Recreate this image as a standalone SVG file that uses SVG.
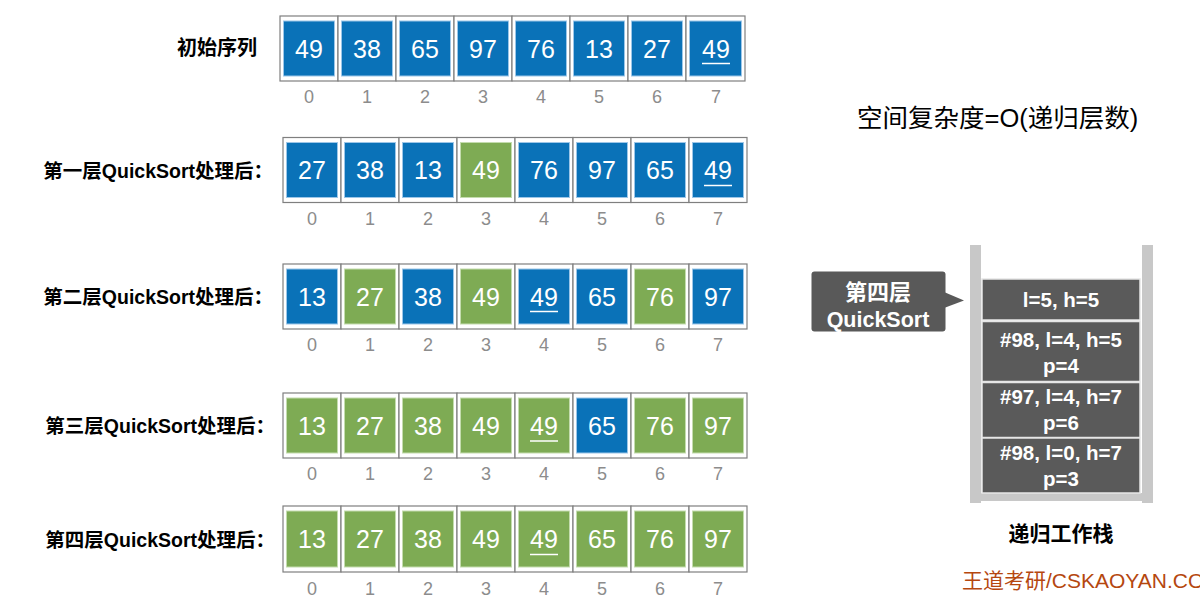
<svg xmlns="http://www.w3.org/2000/svg" width="1200" height="603" viewBox="0 0 1200 603">
<style>
.cell{fill:#fff;stroke:#7f7f7f;stroke-width:1.2}
.b{fill:#0A72B8;stroke:#9CC6E8;stroke-width:1}
.g{fill:#7EAB54;stroke:#C4DCAE;stroke-width:1}
.v{font-family:"Liberation Sans",Arial,sans-serif;font-size:25px;fill:#fff;text-anchor:middle}
.ix{font-family:"Liberation Sans",Arial,sans-serif;font-size:18px;fill:#8C8C8C;text-anchor:middle}
.ul{stroke:#fff;stroke-width:1.5}
.lbl{font-family:"Liberation Sans","Noto Sans CJK SC",sans-serif;font-size:19.5px;font-weight:bold;fill:#000;text-anchor:end}
.st{fill:#5A5A5A;stroke:#e6e6e6;stroke-width:1.5}
.stt{font-family:"Liberation Sans",Arial,sans-serif;font-size:20.5px;font-weight:bold;fill:#fff;text-anchor:middle}
.bar{fill:#C8C8C8}
</style>
<rect width="1200" height="603" fill="#fff"/>

<!-- Row labels -->
<g id="labels">
<text class="lbl" x="257" y="55" style="font-size:20px">初始序列</text>
<text class="lbl" x="273" y="177.5">第一层QuickSort处理后：</text>
<text class="lbl" x="273" y="303.5">第二层QuickSort处理后：</text>
<text class="lbl" x="275" y="433">第三层QuickSort处理后：</text>
<text class="lbl" x="275" y="546.5">第四层QuickSort处理后：</text>
</g>

<!-- Row 1 -->
<g id="row1">
<rect class="cell" x="280" y="16" width="58" height="65"/><rect class="b" x="283.5" y="21" width="51" height="55"/><text class="v" x="309" y="57.5">49</text><text class="ix" x="309" y="103">0</text>
<rect class="cell" x="338" y="16" width="58" height="65"/><rect class="b" x="341.5" y="21" width="51" height="55"/><text class="v" x="367" y="57.5">38</text><text class="ix" x="367" y="103">1</text>
<rect class="cell" x="396" y="16" width="58" height="65"/><rect class="b" x="399.5" y="21" width="51" height="55"/><text class="v" x="425" y="57.5">65</text><text class="ix" x="425" y="103">2</text>
<rect class="cell" x="454" y="16" width="58" height="65"/><rect class="b" x="457.5" y="21" width="51" height="55"/><text class="v" x="483" y="57.5">97</text><text class="ix" x="483" y="103">3</text>
<rect class="cell" x="512" y="16" width="58" height="65"/><rect class="b" x="515.5" y="21" width="51" height="55"/><text class="v" x="541" y="57.5">76</text><text class="ix" x="541" y="103">4</text>
<rect class="cell" x="570" y="16" width="58" height="65"/><rect class="b" x="573.5" y="21" width="51" height="55"/><text class="v" x="599" y="57.5">13</text><text class="ix" x="599" y="103">5</text>
<rect class="cell" x="628" y="16" width="58" height="65"/><rect class="b" x="631.5" y="21" width="51" height="55"/><text class="v" x="657" y="57.5">27</text><text class="ix" x="657" y="103">6</text>
<rect class="cell" x="686" y="16" width="59" height="65"/><rect class="b" x="689.5" y="21" width="52" height="55"/><text class="v" x="716" y="57.5">49</text><line class="ul" x1="702" y1="63.5" x2="730" y2="63.5"/><text class="ix" x="716" y="103">7</text>
</g>

<!-- Row 2 -->
<g id="row2">
<rect class="cell" x="283" y="137.5" width="58" height="65"/><rect class="b" x="286.5" y="142.5" width="51" height="55"/><text class="v" x="312" y="179">27</text><text class="ix" x="312" y="224.5">0</text>
<rect class="cell" x="341" y="137.5" width="58" height="65"/><rect class="b" x="344.5" y="142.5" width="51" height="55"/><text class="v" x="370" y="179">38</text><text class="ix" x="370" y="224.5">1</text>
<rect class="cell" x="399" y="137.5" width="58" height="65"/><rect class="b" x="402.5" y="142.5" width="51" height="55"/><text class="v" x="428" y="179">13</text><text class="ix" x="428" y="224.5">2</text>
<rect class="cell" x="457" y="137.5" width="58" height="65"/><rect class="g" x="460.5" y="142.5" width="51" height="55"/><text class="v" x="486" y="179">49</text><text class="ix" x="486" y="224.5">3</text>
<rect class="cell" x="515" y="137.5" width="58" height="65"/><rect class="b" x="518.5" y="142.5" width="51" height="55"/><text class="v" x="544" y="179">76</text><text class="ix" x="544" y="224.5">4</text>
<rect class="cell" x="573" y="137.5" width="58" height="65"/><rect class="b" x="576.5" y="142.5" width="51" height="55"/><text class="v" x="602" y="179">97</text><text class="ix" x="602" y="224.5">5</text>
<rect class="cell" x="631" y="137.5" width="58" height="65"/><rect class="b" x="634.5" y="142.5" width="51" height="55"/><text class="v" x="660" y="179">65</text><text class="ix" x="660" y="224.5">6</text>
<rect class="cell" x="689" y="137.5" width="58" height="65"/><rect class="b" x="692.5" y="142.5" width="51" height="55"/><text class="v" x="718" y="179">49</text><line class="ul" x1="704" y1="185.5" x2="732" y2="185.5"/><text class="ix" x="718" y="224.5">7</text>
</g>

<!-- Row 3 -->
<g id="row3">
<rect class="cell" x="283" y="264" width="58" height="65"/><rect class="b" x="286.5" y="269" width="51" height="55"/><text class="v" x="312" y="305.5">13</text><text class="ix" x="312" y="350.5">0</text>
<rect class="cell" x="341" y="264" width="58" height="65"/><rect class="g" x="344.5" y="269" width="51" height="55"/><text class="v" x="370" y="305.5">27</text><text class="ix" x="370" y="350.5">1</text>
<rect class="cell" x="399" y="264" width="58" height="65"/><rect class="b" x="402.5" y="269" width="51" height="55"/><text class="v" x="428" y="305.5">38</text><text class="ix" x="428" y="350.5">2</text>
<rect class="cell" x="457" y="264" width="58" height="65"/><rect class="g" x="460.5" y="269" width="51" height="55"/><text class="v" x="486" y="305.5">49</text><text class="ix" x="486" y="350.5">3</text>
<rect class="cell" x="515" y="264" width="58" height="65"/><rect class="b" x="518.5" y="269" width="51" height="55"/><text class="v" x="544" y="305.5">49</text><line class="ul" x1="530" y1="311.5" x2="558" y2="311.5"/><text class="ix" x="544" y="350.5">4</text>
<rect class="cell" x="573" y="264" width="58" height="65"/><rect class="b" x="576.5" y="269" width="51" height="55"/><text class="v" x="602" y="305.5">65</text><text class="ix" x="602" y="350.5">5</text>
<rect class="cell" x="631" y="264" width="58" height="65"/><rect class="g" x="634.5" y="269" width="51" height="55"/><text class="v" x="660" y="305.5">76</text><text class="ix" x="660" y="350.5">6</text>
<rect class="cell" x="689" y="264" width="58" height="65"/><rect class="b" x="692.5" y="269" width="51" height="55"/><text class="v" x="718" y="305.5">97</text><text class="ix" x="718" y="350.5">7</text>
</g>

<!-- Row 4 -->
<g id="row4">
<rect class="cell" x="283" y="393" width="58" height="65"/><rect class="g" x="286.5" y="398" width="51" height="55"/><text class="v" x="312" y="434.5">13</text><text class="ix" x="312" y="479.5">0</text>
<rect class="cell" x="341" y="393" width="58" height="65"/><rect class="g" x="344.5" y="398" width="51" height="55"/><text class="v" x="370" y="434.5">27</text><text class="ix" x="370" y="479.5">1</text>
<rect class="cell" x="399" y="393" width="58" height="65"/><rect class="g" x="402.5" y="398" width="51" height="55"/><text class="v" x="428" y="434.5">38</text><text class="ix" x="428" y="479.5">2</text>
<rect class="cell" x="457" y="393" width="58" height="65"/><rect class="g" x="460.5" y="398" width="51" height="55"/><text class="v" x="486" y="434.5">49</text><text class="ix" x="486" y="479.5">3</text>
<rect class="cell" x="515" y="393" width="58" height="65"/><rect class="g" x="518.5" y="398" width="51" height="55"/><text class="v" x="544" y="434.5">49</text><line class="ul" x1="530" y1="441" x2="558" y2="441"/><text class="ix" x="544" y="479.5">4</text>
<rect class="cell" x="573" y="393" width="58" height="65"/><rect class="b" x="576.5" y="398" width="51" height="55"/><text class="v" x="602" y="434.5">65</text><text class="ix" x="602" y="479.5">5</text>
<rect class="cell" x="631" y="393" width="58" height="65"/><rect class="g" x="634.5" y="398" width="51" height="55"/><text class="v" x="660" y="434.5">76</text><text class="ix" x="660" y="479.5">6</text>
<rect class="cell" x="689" y="393" width="58" height="65"/><rect class="g" x="692.5" y="398" width="51" height="55"/><text class="v" x="718" y="434.5">97</text><text class="ix" x="718" y="479.5">7</text>
</g>

<!-- Row 5 -->
<g id="row5">
<rect class="cell" x="283" y="506" width="58" height="66"/><rect class="g" x="286.5" y="511" width="51" height="56"/><text class="v" x="312" y="548">13</text><text class="ix" x="312" y="594.5">0</text>
<rect class="cell" x="341" y="506" width="58" height="66"/><rect class="g" x="344.5" y="511" width="51" height="56"/><text class="v" x="370" y="548">27</text><text class="ix" x="370" y="594.5">1</text>
<rect class="cell" x="399" y="506" width="58" height="66"/><rect class="g" x="402.5" y="511" width="51" height="56"/><text class="v" x="428" y="548">38</text><text class="ix" x="428" y="594.5">2</text>
<rect class="cell" x="457" y="506" width="58" height="66"/><rect class="g" x="460.5" y="511" width="51" height="56"/><text class="v" x="486" y="548">49</text><text class="ix" x="486" y="594.5">3</text>
<rect class="cell" x="515" y="506" width="58" height="66"/><rect class="g" x="518.5" y="511" width="51" height="56"/><text class="v" x="544" y="548">49</text><line class="ul" x1="530" y1="554.5" x2="558" y2="554.5"/><text class="ix" x="544" y="594.5">4</text>
<rect class="cell" x="573" y="506" width="58" height="66"/><rect class="g" x="576.5" y="511" width="51" height="56"/><text class="v" x="602" y="548">65</text><text class="ix" x="602" y="594.5">5</text>
<rect class="cell" x="631" y="506" width="58" height="66"/><rect class="g" x="634.5" y="511" width="51" height="56"/><text class="v" x="660" y="548">76</text><text class="ix" x="660" y="594.5">6</text>
<rect class="cell" x="689" y="506" width="58" height="66"/><rect class="g" x="692.5" y="511" width="51" height="56"/><text class="v" x="718" y="548">97</text><text class="ix" x="718" y="594.5">7</text>
</g>

<!-- Complexity note -->
<g id="note">
<text x="857" y="127" style="font-family:'Liberation Sans','Noto Sans CJK SC',sans-serif;font-size:25.5px;fill:#000">空间复杂度=O(递归层数)</text>
</g>

<!-- Stack -->
<g id="stack">
<rect class="bar" x="970" y="245" width="11" height="258"/>
<rect class="bar" x="1142" y="245" width="11" height="258"/>
<rect class="bar" x="981" y="493" width="161" height="8"/>
<rect class="st" x="982" y="279" width="158" height="41"/>
<text class="stt" x="1061" y="307">l=5, h=5</text>
<rect class="st" x="982" y="321.5" width="158" height="60"/>
<text class="stt" x="1061" y="347">#98, l=4, h=5</text>
<text class="stt" x="1061" y="373">p=4</text>
<rect class="st" x="982" y="382.5" width="158" height="55"/>
<text class="stt" x="1061" y="404">#97, l=4, h=7</text>
<text class="stt" x="1061" y="430">p=6</text>
<rect class="st" x="982" y="438" width="158" height="55"/>
<text class="stt" x="1061" y="460">#98, l=0, h=7</text>
<text class="stt" x="1061" y="486">p=3</text>
<text x="1061" y="541" style="font-family:'Liberation Sans','Noto Sans CJK SC',sans-serif;font-size:21px;font-weight:bold;fill:#000;text-anchor:middle">递归工作栈</text>
</g>

<!-- Callout -->
<g id="callout">
<rect x="811.5" y="271.5" width="134" height="60" rx="3" fill="#595959"/>
<polygon points="944,292 964,300.5 944,308" fill="#595959"/>
<text x="878" y="299.5" style="font-family:'Liberation Sans','Noto Sans CJK SC',sans-serif;font-size:22px;font-weight:bold;fill:#fff;text-anchor:middle">第四层</text>
<text x="878" y="326.5" style="font-family:'Liberation Sans',Arial,sans-serif;font-size:21.5px;font-weight:bold;fill:#fff;text-anchor:middle">QuickSort</text>
</g>

<g id="footer">
<text x="962" y="588" style="font-family:'Liberation Sans','Noto Sans CJK SC',sans-serif;font-size:21px;fill:#B5470F">王道考研/CSKAOYAN.COM</text>
</g>
</svg>
